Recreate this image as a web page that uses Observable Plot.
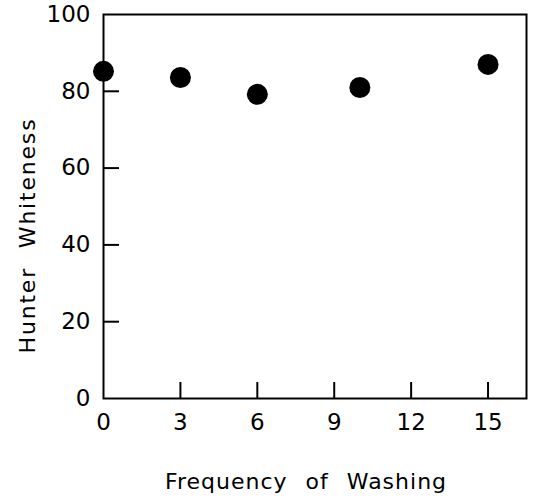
<!DOCTYPE html>
<html><head><meta charset="utf-8">
<script src="https://cdn.jsdelivr.net/npm/d3@7"></script>
<script src="https://cdn.jsdelivr.net/npm/@observablehq/plot@0.6"></script>
<style>
body{margin:0;background:#fff;}
#c svg{display:block;}
</style>
</head><body><div id="c"></div>
<script>
const washes = [0, 3, 6, 10, 15];
const whiteness = [85.2, 83.6, 79.2, 81.0, 87.0];
const xTicks = [0, 3, 6, 9, 12, 15];
const yTicks = [0, 20, 40, 60, 80, 100];
const xLabel = "Frequency of Washing";
const yLabel = "Hunter Whiteness";

const data = washes.map((w, i) => ({w, v: whiteness[i]}));
const xDomain = [0, 16.5], yDomain = [0, 100];
const tickPx = 16;
const plotW = 533 - 103 - 7, plotH = 498 - 14 - 100;
const xTickLen = tickPx / plotH * 100;
const yTickLen = tickPx / plotW * 16.5;

const chart = Plot.plot({
  width: 533, height: 498,
  marginLeft: 103, marginRight: 7, marginTop: 14, marginBottom: 100,
  x: {domain: xDomain},
  y: {domain: yDomain},
  style: {fontFamily: "DejaVu Sans, sans-serif", color: "#000", background: "#fff"},
  marks: [
    Plot.frame({stroke: "#000", strokeWidth: 2}),
    Plot.ruleX(xTicks.filter(t => t > 0), {x: d => d, y1: 0, y2: xTickLen, stroke: "#000", strokeWidth: 2}),
    Plot.ruleY(yTicks.filter(t => t > 0 && t < 100), {y: d => d, x1: 0, x2: yTickLen, stroke: "#000", strokeWidth: 2}),
    Plot.axisX(xTicks, {tickSize: 0, tickPadding: 15, fontSize: 23, label: null}),
    Plot.axisY(yTicks, {tickSize: 0, tickPadding: 13, fontSize: 23, label: null}),
    Plot.text([xLabel], {frameAnchor: "bottom", dx: -9, dy: 90, fontSize: 22, text: d => d, className: "xlab"}),
    Plot.text([yLabel], {frameAnchor: "left", textAnchor: "middle", dx: -76, dy: 29, rotate: -90, fontSize: 22, text: d => d, className: "ylab"}),
    Plot.dot(data, {x: "w", y: "v", r: 10.5, fill: "#000", stroke: "none", clip: false})
  ]
});
const s = d3.select(chart);
s.selectAll(".xlab text").style("letter-spacing", "1px").style("word-spacing", "10px");
s.selectAll(".ylab text").style("letter-spacing", "1.8px").style("word-spacing", "10px");
document.getElementById("c").appendChild(chart);
</script>
</body></html>
